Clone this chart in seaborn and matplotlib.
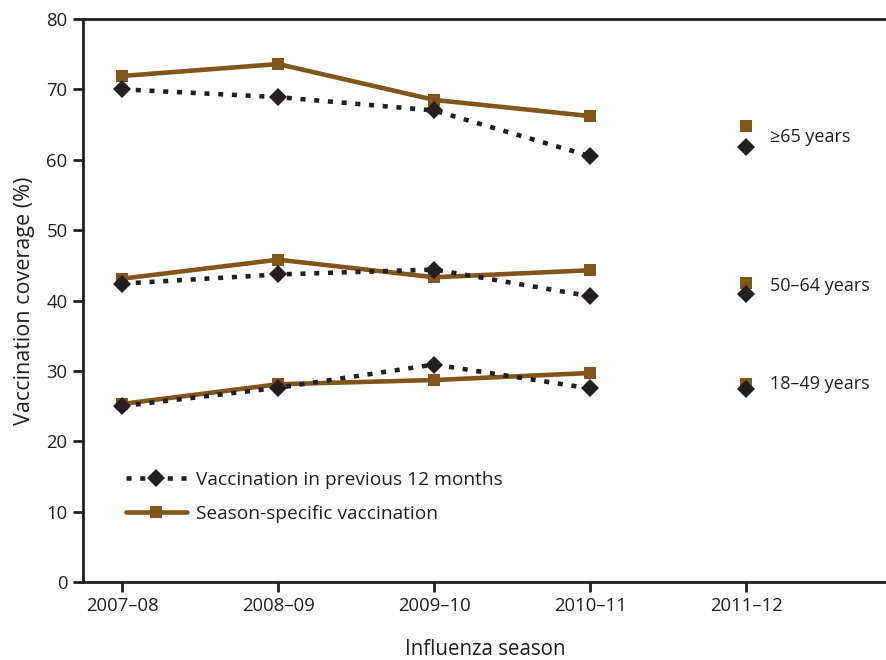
import matplotlib
matplotlib.use("Agg")
import matplotlib.pyplot as plt
import seaborn as sns
import pandas as pd
from matplotlib.lines import Line2D

seasons = ["2007–08", "2008–09", "2009–10", "2010–11", "2011–12"]
data_seasons = seasons[:4]
age_groups = ["≥65 years", "50–64 years", "18–49 years"]

season_specific = {
    "≥65 years": [71.9, 73.6, 68.5, 66.2],
    "50–64 years": [43.1, 45.8, 43.3, 44.3],
    "18–49 years": [25.3, 28.1, 28.7, 29.7],
}
prev_12_months = {
    "≥65 years": [70.0, 68.9, 67.0, 60.5],
    "50–64 years": [42.4, 43.7, 44.4, 40.6],
    "18–49 years": [25.0, 27.6, 30.9, 27.5],
}
# marker keys beside the age-group labels (at the 2011–12 position)
key_square_y = [64.8, 42.5, 28.2]
key_diamond_y = [61.8, 40.9, 27.4]
label_y = [63.3, 42.1, 28.2]

BROWN = "#80561b"
BLACK = "#231f20"

sns.set_theme(style="white")
plt.rcParams["font.family"] = ["Open Sans", "DejaVu Sans"]
plt.rcParams["text.color"] = BLACK
plt.rcParams["axes.labelcolor"] = BLACK
plt.rcParams["xtick.color"] = BLACK
plt.rcParams["ytick.color"] = BLACK

fig = plt.figure(figsize=(8.87, 6.60), dpi=100)
ax = fig.add_axes([83 / 887, 1 - 582 / 660, 1 - 83 / 887, (582 - 19) / 660])

xpos = {s: i for i, s in enumerate(seasons)}

rows = []
for g in age_groups:
    for s, v in zip(data_seasons, prev_12_months[g]):
        rows.append({"season": xpos[s], "value": v, "group": g, "kind": "prev"})
    for s, v in zip(data_seasons, season_specific[g]):
        rows.append({"season": xpos[s], "value": v, "group": g, "kind": "spec"})
df = pd.DataFrame(rows)

LW = 3.3
for g in age_groups:
    d = df[(df.group == g) & (df.kind == "prev")]
    sns.lineplot(data=d, x="season", y="value", ax=ax, color=BLACK, lw=LW,
                 marker="D", markersize=9.5, markeredgewidth=0, zorder=3,
                 legend=False)
    ax.lines[-1].set_dashes((1.1, 1.9))
    ax.lines[-1].set_dash_capstyle("butt")
    d = df[(df.group == g) & (df.kind == "spec")]
    sns.lineplot(data=d, x="season", y="value", ax=ax, color=BROWN, lw=LW,
                 marker="s", markersize=9, markeredgewidth=0, zorder=2,
                 legend=False)

key_x = xpos["2011–12"]
for g, sy, dy, ly in zip(age_groups, key_square_y, key_diamond_y, label_y):
    ax.plot([key_x], [sy], marker="s", color=BROWN, markersize=9, markeredgewidth=0)
    ax.plot([key_x], [dy], marker="D", color=BLACK, markersize=9.5, markeredgewidth=0)
    ax.text(key_x + 0.15, ly, g, fontsize=13, va="center", ha="left")

ax.set_xlim(-0.25, 4.9)
ax.set_ylim(0, 80)
ax.set_xticks(range(len(seasons)))
ax.set_xticklabels(seasons)
ax.set_yticks(range(0, 81, 10))
ax.tick_params(axis="both", direction="out", length=7, width=2, labelsize=13.3,
               bottom=True, left=True, pad=4)
for side in ["left", "bottom", "top"]:
    ax.spines[side].set_visible(True)
    ax.spines[side].set_color(BLACK)
    ax.spines[side].set_linewidth(2)
ax.spines["right"].set_visible(False)

ax.set_xlabel("Influenza season", fontsize=14.8, labelpad=17)
ax.set_ylabel("Vaccination coverage (%)", fontsize=15.5, labelpad=8)

h1 = Line2D([], [], color=BLACK, lw=LW, marker="D", markersize=9.5,
            markeredgewidth=0, dashes=(1.1, 1.9), dash_capstyle="butt")
h2 = Line2D([], [], color=BROWN, lw=LW, marker="s", markersize=9,
            markeredgewidth=0)
ax.legend([h1, h2], ["Vaccination in previous 12 months", "Season-specific vaccination"],
          loc="lower left", bbox_to_anchor=(0.0435, 0.091), frameon=False,
          fontsize=13.8, handlelength=3.2, handletextpad=0.45, labelspacing=0.85,
          borderaxespad=0)

fig.savefig("out.png", dpi=100)
